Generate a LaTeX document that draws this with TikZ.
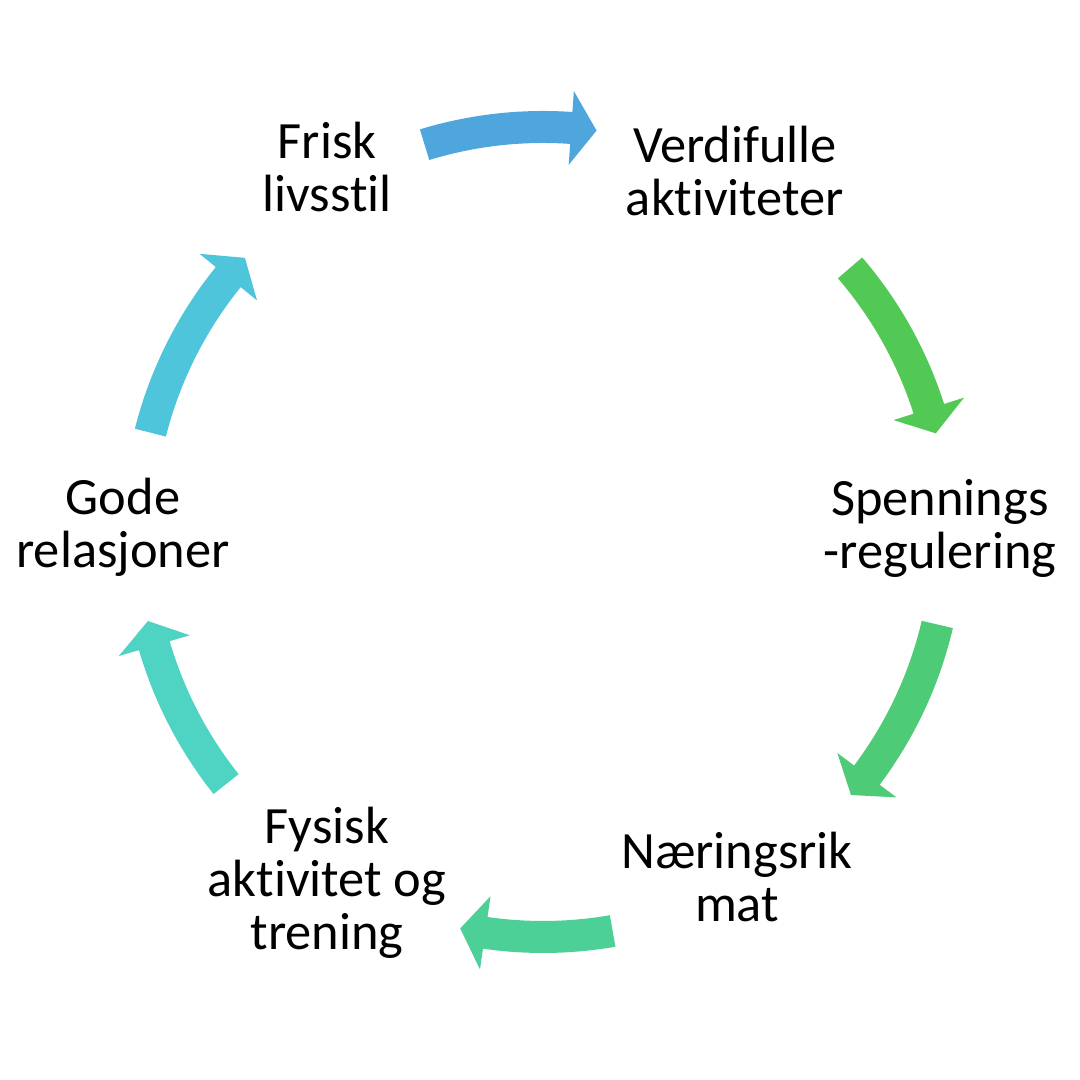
\documentclass[tikz,border=0pt]{standalone}
\usepackage{fontspec}
\setmainfont{Carlito}[Ligatures=NoCommon]
\definecolor{arA}{HTML}{4FA6DC}
\definecolor{arB}{HTML}{52C954}
\definecolor{arC}{HTML}{4ECB76}
\definecolor{arD}{HTML}{4DD097}
\definecolor{arE}{HTML}{4FD3C3}
\definecolor{arF}{HTML}{4EC5DA}
% #1 colour, #2 tail angle, #3 tip angle (clockwise arrow)
\newcommand\cycarrow[3]{%
  \pgfmathsetmacro\headbase{#3+3.6}%
  \fill[#1] (#2:421) arc[start angle=#2, end angle=\headbase, radius=421]
    -- (\headbase:442) -- (#3:405) -- (\headbase:368) -- (\headbase:389)
    arc[start angle=\headbase, end angle=#2, radius=389] -- cycle;}
\begin{document}
\begin{tikzpicture}[x=0.01cm,y=0.01cm,
  lbl/.style={align=center, anchor=base, inner sep=0pt,
    font=\fontsize{14.9pt}{15.1pt}\selectfont, text=black}]
\useasboundingbox (0,0) rectangle (1080,1080);
\fill[white] (0,0) rectangle (1080,1080);
\begin{scope}[shift={(543,548)}]
  \cycarrow{arA}{107}{82.4}
  \cycarrow{arB}{40.7}{14.1}
  \cycarrow{arC}{-13.2}{-40.5}
  \cycarrow{arD}{-80.1}{-101.8}
  \cycarrow{arE}{218.5}{192.7}
  \cycarrow{arF}{165.8}{137.4}
\end{scope}
\node[lbl] (frisk) at (327,868) {Frisk\\livsstil};
\node[lbl] (verdi) at (735,864) {Verdifulle\\aktiviteter};
\node[lbl] (spenn) at (940,511) {Spennings\\-regulering};
\node[lbl] (naer) at (737,158) {Næringsrik\\mat};
\node[lbl] (fysisk) at (327,130) {Fysisk\\aktivitet og\\trening};
\node[lbl] (gode) at (123,512) {Gode\\relasjoner};
\end{tikzpicture}
\end{document}
